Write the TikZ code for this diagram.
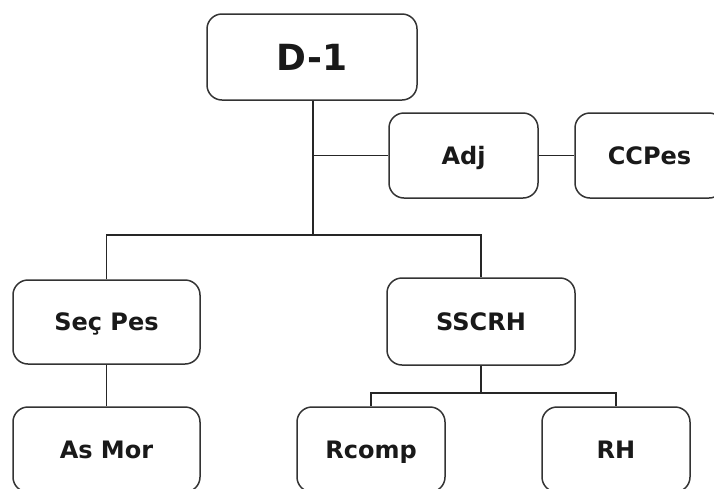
\documentclass[tikz,border=0pt]{standalone}
\usepackage{fontspec}
\setmainfont{DejaVu Sans}
\begin{document}
\begin{tikzpicture}[x=1pt,y=-1pt,
  unit/.style={draw=black!80, line width=1.5pt, rounded corners=15pt, fill=white,
    inner sep=0pt, text height=17.5pt, text depth=0pt,
    font=\bfseries\fontsize{24}{28}\selectfont, text=black!90},
  topunit/.style={unit, text height=26.3pt, font=\bfseries\fontsize{36}{40}\selectfont},
  link/.style={draw=black!85, line width=1.5pt}]
  \useasboundingbox (0,0) rectangle (714,488);
  \clip (0,0) rectangle (714,488);
  \fill[white] (0,0) rectangle (714,488);

  % boxes of the chart
  \node[topunit, minimum width=210pt, minimum height=86pt] (D1) at (312,57) {D-1};
  \node[unit, minimum width=149pt, minimum height=85pt] (Adj) at (463.5,155.5) {Adj};
  \node[unit, minimum width=149pt, minimum height=85pt] (CCPes) at (649.5,155.5) {CCPes};
  \node[unit, minimum width=187pt, minimum height=84pt] (SecPes) at (106.5,322) {Seç Pes};
  \node[unit, minimum width=188pt, minimum height=87pt] (SSCRH) at (481,321.5) {SSCRH};
  \node[unit, minimum width=187pt, minimum height=85pt] (AsMor) at (106.5,449.5) {As Mor};
  \node[unit, minimum width=148pt, minimum height=85pt] (Rcomp) at (371,449.5) {Rcomp};
  \node[unit, minimum width=148pt, minimum height=85pt] (RH) at (616,449.5) {RH};

  % junction points of the tree lines
  \coordinate (hub) at (313,235);
  \coordinate (split) at (481,393);

  % connectors
  \draw[link] (D1.south -| hub) -- (hub);
  \draw[link] (hub |- Adj.west) -- (Adj.west);
  \draw[link] (Adj.east) -- (CCPes.west);
  \draw[link] (SecPes.north) |- (hub) -| (SSCRH.north);
  \draw[link] (SecPes.south) -- (AsMor.north);
  \draw[link] (SSCRH.south) -- (split);
  \draw[link] (Rcomp.north) |- (split) -| (RH.north);
\end{tikzpicture}
\end{document}
